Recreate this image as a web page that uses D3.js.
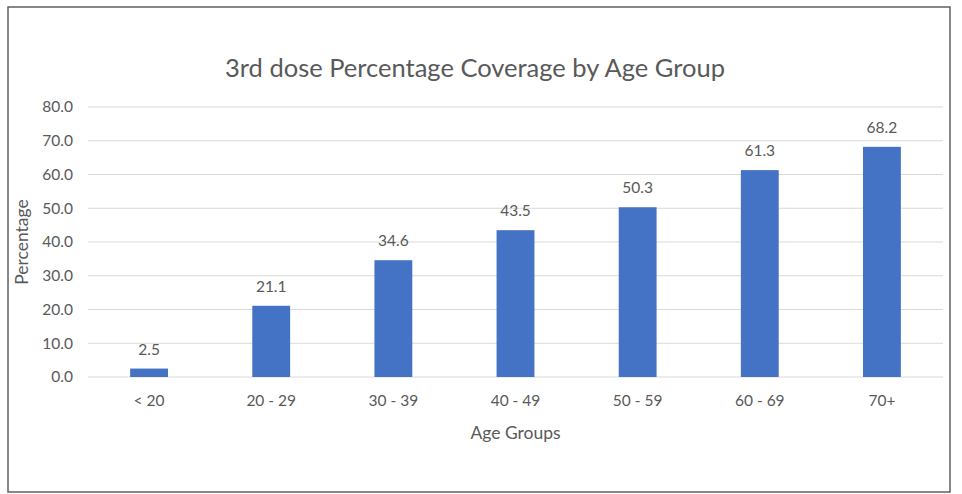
<!DOCTYPE html>
<html>
<head>
<meta charset="utf-8">
<script src="https://cdn.jsdelivr.net/npm/d3@7"></script>
<style>
  body { margin: 0; background: #fff; }
  text { font-family: "Lato", "Open Sans", sans-serif; fill: #595959; }
</style>
</head>
<body>
<div id="chart"></div>
<script>
// data
var ageGroups = ["< 20", "20 - 29", "30 - 39", "40 - 49", "50 - 59", "60 - 69", "70+"];
var coverage = [2.5, 21.1, 34.6, 43.5, 50.3, 61.3, 68.2];
var yTicks = [0, 10, 20, 30, 40, 50, 60, 70, 80];

var W = 962, H = 494;
var svg = d3.select("#chart").append("svg")
    .attr("width", W)
    .attr("height", H);

// outer frame
svg.append("rect")
    .attr("x", 8).attr("y", 7)
    .attr("width", 942).attr("height", 485)
    .style("fill", "white")
    .style("stroke", "#606060")
    .style("stroke-width", 1.5);

var plotLeft = 88, plotRight = 943, plotTop = 107, plotBottom = 377;

var x = d3.scaleBand()
    .domain(ageGroups)
    .range([plotLeft, plotRight])
    .paddingInner(0.69)
    .paddingOuter(0.345);

var y = d3.scaleLinear()
    .domain([0, 80])
    .range([plotBottom, plotTop]);

// gridlines
svg.selectAll("line.grid")
    .data(yTicks)
    .enter()
    .append("line")
    .attr("class", "grid")
    .attr("x1", plotLeft)
    .attr("x2", plotRight)
    .attr("y1", function (d) { return y(d); })
    .attr("y2", function (d) { return y(d); })
    .style("stroke", "#d9d9d9")
    .style("stroke-width", 1);

// y tick labels
svg.selectAll("text.ytick")
    .data(yTicks)
    .enter()
    .append("text")
    .attr("class", "ytick")
    .attr("x", 73)
    .attr("y", function (d) { return y(d); })
    .attr("dy", "0.35em")
    .style("text-anchor", "end")
    .style("font-size", "15.5px")
    .text(function (d) { return d.toFixed(1); });

// bars
svg.selectAll("rect.bar")
    .data(coverage)
    .enter()
    .append("rect")
    .attr("class", "bar")
    .attr("x", function (d, i) { return x(ageGroups[i]); })
    .attr("y", function (d) { return y(d); })
    .attr("width", x.bandwidth())
    .attr("height", function (d) { return y(0) - y(d); })
    .style("fill", "#4472c4");

// value labels
svg.selectAll("text.val")
    .data(coverage)
    .enter()
    .append("text")
    .attr("class", "val")
    .attr("x", function (d, i) { return x(ageGroups[i]) + x.bandwidth() / 2; })
    .attr("y", function (d) { return y(d) - 14; })
    .style("text-anchor", "middle")
    .style("font-size", "15.5px")
    .text(function (d) { return d.toFixed(1); });

// category labels
svg.selectAll("text.xtick")
    .data(ageGroups)
    .enter()
    .append("text")
    .attr("class", "xtick")
    .attr("x", function (d) { return x(d) + x.bandwidth() / 2; })
    .attr("y", 406)
    .style("text-anchor", "middle")
    .style("font-size", "15.5px")
    .text(function (d) { return d; });

// titles
svg.append("text")
    .attr("x", 475)
    .attr("y", 77)
    .style("text-anchor", "middle")
    .style("font-size", "25.5px")
    .text("3rd dose Percentage Coverage by Age Group");

svg.append("text")
    .attr("x", (plotLeft + plotRight) / 2)
    .attr("y", 439)
    .style("text-anchor", "middle")
    .style("font-size", "17.5px")
    .text("Age Groups");

svg.append("text")
    .attr("transform", "translate(28," + (plotTop + plotBottom) / 2 + ") rotate(-90)")
    .style("text-anchor", "middle")
    .style("font-size", "17.5px")
    .text("Percentage");
</script>
</body>
</html>
